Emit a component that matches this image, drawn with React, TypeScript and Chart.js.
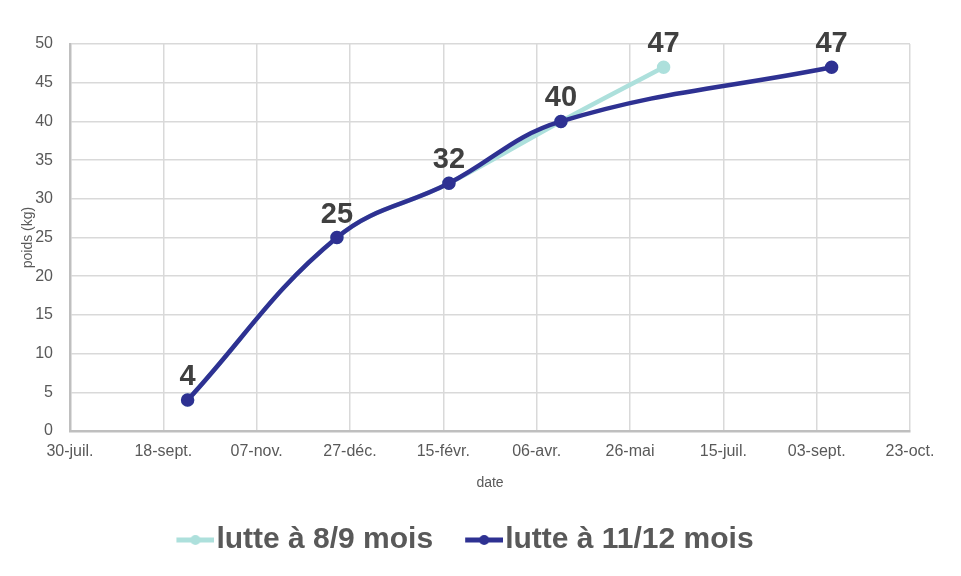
import { useEffect, useRef } from 'react';
import { Chart, registerables } from 'chart.js';

Chart.register(...registerables);

// x axis is in days counted from 30 July, one tick every 50 days
const tickLabels = ['30-juil.', '18-sept.', '07-nov.', '27-déc.', '15-févr.', '06-avr.', '26-mai', '15-juil.', '03-sept.', '23-oct.'];
const tickStep = 50;

const seriesNames = ['lutte à 8/9 mois', 'lutte à 11/12 mois'];
const days89 = [63, 143, 203, 263, 318];
const weights89 = [4, 25, 32, 40, 47];
const days1112 = [63, 143, 203, 263, 408];
const weights1112 = [4, 25, 32, 40, 47];

const LIGHT = '#ade0dc';
const DARK = '#2e3192';
const TEXT = '#595959';
const FONT = "'Liberation Sans', Arial, sans-serif";

// legend marker: a short line with a dot, like Excel's line legend keys
function makeMarker(color: string) {
  const c = document.createElement('canvas');
  c.width = 71;
  c.height = 14;
  const ctx = c.getContext('2d')!;
  ctx.strokeStyle = color;
  ctx.fillStyle = color;
  ctx.lineWidth = 5;
  ctx.beginPath();
  ctx.moveTo(33, 7);
  ctx.lineTo(71, 7);
  ctx.stroke();
  ctx.beginPath();
  ctx.arc(52, 7, 5, 0, Math.PI * 2);
  ctx.fill();
  return c;
}

// values written above the points; a point of the first series already
// labelled by the second one (same day) is not written twice
const valueLabels = {
  id: 'valueLabels',
  afterDatasetsDraw(chart: Chart) {
    const { ctx } = chart;
    ctx.save();
    ctx.font = `bold 29px ${FONT}`;
    ctx.fillStyle = '#404040';
    ctx.textAlign = 'center';
    ctx.textBaseline = 'alphabetic';
    chart.data.datasets.forEach((ds, i) => {
      const meta = chart.getDatasetMeta(i);
      (ds.data as { x: number; y: number }[]).forEach((p, j) => {
        if (i === 0 && days1112.includes(p.x)) return;
        const el = meta.data[j];
        ctx.fillText(String(p.y), el.x, el.y - 15);
      });
    });
    ctx.restore();
  },
};

export default function App() {
  const canvasRef = useRef<HTMLCanvasElement>(null);
  const chartRef = useRef<Chart | null>(null);

  useEffect(() => {
    chartRef.current?.destroy();
    if (!canvasRef.current) return undefined;

    Chart.defaults.font.family = FONT;
    const markers = [makeMarker(LIGHT), makeMarker(DARK)];

    chartRef.current = new Chart(canvasRef.current, {
      type: 'line',
      data: {
        datasets: [
          {
            label: seriesNames[0],
            data: days89.map((d, i) => ({ x: d, y: weights89[i] })),
            borderColor: LIGHT,
            backgroundColor: LIGHT,
            borderWidth: 4.5,
            pointRadius: 4.5,
            tension: 0.4,
            order: 2,
          },
          {
            label: seriesNames[1],
            data: days1112.map((d, i) => ({ x: d, y: weights1112[i] })),
            borderColor: DARK,
            backgroundColor: DARK,
            borderWidth: 4.5,
            pointRadius: 4.5,
            tension: 0.4,
            order: 1,
          },
        ],
      },
      options: {
        animation: false,
        responsive: true,
        maintainAspectRatio: false,
        layout: { padding: { left: 0, right: 51, top: 44, bottom: 11 } },
        plugins: {
          tooltip: { enabled: false },
          legend: {
            position: 'bottom',
            labels: {
              color: TEXT,
              font: { size: 30, weight: 'bold' },
              padding: 12,
              usePointStyle: true,
              pointStyleWidth: 45,
              sort: (a, b) => a.datasetIndex - b.datasetIndex,
              generateLabels: (chart: Chart) =>
                Chart.defaults.plugins.legend.labels
                  .generateLabels(chart)
                  .map((l) => ({ ...l, pointStyle: markers[l.datasetIndex] })),
            },
          },
        },
        scales: {
          x: {
            type: 'linear',
            min: 0,
            max: tickStep * (tickLabels.length - 1),
            afterFit: (s) => {
              s.height = 82;
            },
            ticks: {
              stepSize: tickStep,
              autoSkip: false,
              maxRotation: 0,
              padding: 11,
              color: TEXT,
              font: { size: 16 },
              callback: (v) => tickLabels[Math.round(Number(v) / tickStep)] ?? '',
            },
            grid: { color: '#d9d9d9', lineWidth: 1.5, drawTicks: false },
            border: { color: '#bfbfbf', width: 2.5 },
            title: { display: true, text: 'date', color: TEXT, font: { size: 14 }, padding: { bottom: 21, top: 0 } },
          },
          y: {
            min: 0,
            max: 50,
            afterFit: (s) => {
              s.width = 70;
            },
            ticks: { stepSize: 5, padding: 17, color: TEXT, font: { size: 16 } },
            grid: { color: '#d9d9d9', lineWidth: 1.5, drawTicks: false },
            border: { color: '#bfbfbf', width: 2.5 },
            title: { display: true, text: 'poids (kg)', color: TEXT, font: { size: 14 }, padding: { top: 20, bottom: 0 } },
          },
        },
      },
      plugins: [valueLabels],
    });

    return () => {
      chartRef.current?.destroy();
      chartRef.current = null;
    };
  }, []);

  return (
    <div style={{ position: 'fixed', left: 0, top: 0, width: 961, height: 576, background: '#fff' }}>
      <canvas ref={canvasRef} />
    </div>
  );
}
